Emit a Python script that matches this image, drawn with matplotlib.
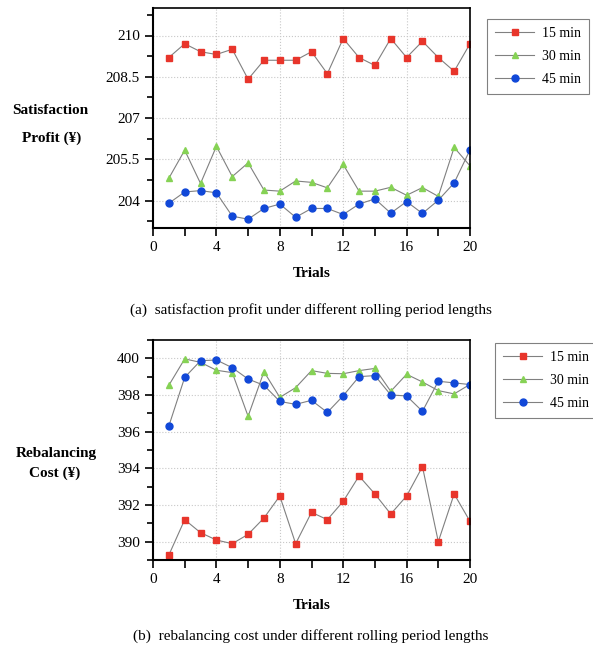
import matplotlib.pyplot as plt
from matplotlib.ticker import MultipleLocator

# trials 1..20
trials = list(range(1, 21))
labels = ["15 min", "30 min", "45 min"]

# (a) satisfaction profit
profit_15 = [209.2, 209.7, 209.41, 209.31, 209.5, 208.41, 209.1, 209.1, 209.1, 209.41,
             208.61, 209.89, 209.2, 208.91, 209.89, 209.2, 209.79, 209.2, 208.7, 209.7]
profit_30 = [204.81, 205.83, 204.62, 205.97, 204.87, 205.37, 204.38, 204.34, 204.71, 204.66,
             204.46, 205.31, 204.34, 204.34, 204.48, 204.19, 204.47, 204.15, 205.93, 205.26]
profit_45 = [203.9, 204.31, 204.36, 204.28, 203.43, 203.32, 203.71, 203.87, 203.39, 203.71,
             203.71, 203.49, 203.87, 204.06, 203.54, 203.96, 203.53, 204.01, 204.64, 205.84]

# (b) rebalancing cost
cost_15 = [389.27, 391.2, 390.49, 390.09, 389.89, 390.4, 391.29, 392.49, 389.89, 391.6,
           391.2, 392.2, 393.58, 392.6, 391.51, 392.49, 394.09, 390.0, 392.6, 391.11]
cost_30 = [398.53, 399.97, 399.78, 399.35, 399.22, 396.84, 399.27, 397.87, 398.4, 399.33,
           399.18, 399.16, 399.33, 399.45, 398.2, 399.13, 398.71, 398.24, 398.06, 398.58]
cost_45 = [396.31, 398.96, 399.87, 399.91, 399.49, 398.87, 398.53, 397.65, 397.49, 397.71,
           397.05, 397.96, 399.0, 399.06, 398.0, 397.95, 397.11, 398.75, 398.66, 398.57]

plt.rcParams["font.family"] = ["Liberation Serif", "DejaVu Serif"]
plt.rcParams["font.size"] = 11

W, H = 593, 648
fig = plt.figure(figsize=(W / 100, H / 100), dpi=100)


def px_axes(left, top, right, bottom):
    return fig.add_axes([left / W, 1 - bottom / H, (right - left) / W, (bottom - top) / H])


styles = [("s", "#e8352b"), ("^", "#86d255"), ("o", "#1148d8")]


def draw(ax, series, ylim, major, minor):
    handles = []
    for vals, (m, c), lab in zip(series, styles, labels):
        h, = ax.plot(trials, vals, color="#808080", lw=0.8, marker=m, ms=5,
                     mfc=c, mec=c, label=lab)
        handles.append(h)
    ax.set_xlim(0, 20)
    ax.set_ylim(*ylim)
    ax.xaxis.set_major_locator(MultipleLocator(4))
    ax.xaxis.set_minor_locator(MultipleLocator(2))
    ax.yaxis.set_major_locator(MultipleLocator(major))
    ax.yaxis.set_minor_locator(MultipleLocator(minor))
    ax.tick_params(which="both", direction="out", width=1.2, labelsize=11)
    ax.tick_params(which="major", length=6)
    ax.tick_params(which="minor", length=6, axis="x")
    ax.tick_params(which="minor", length=4, axis="y")
    ax.grid(True, which="major", color="#c8c8c8", ls=":", lw=0.8)
    for s in ["left", "bottom"]:
        ax.spines[s].set_linewidth(1.5)
    for s in ["top", "right"]:
        ax.spines[s].set_linewidth(1.2)
    ax.set_xlabel("Trials", fontweight="bold", labelpad=9)
    return handles


ax1 = px_axes(153, 8, 470, 228)
h1 = draw(ax1, [profit_15, profit_30, profit_45], (203, 211), 1.5, 0.75)
ax1.yaxis.set_major_formatter(plt.FuncFormatter(lambda v, p: f"{v:g}"))

ax2 = px_axes(153, 340, 470, 560)
h2 = draw(ax2, [cost_15, cost_30, cost_45], (389, 401), 2, 1)

fig.text(50 / W, 1 - 111 / H, "Satisfaction", ha="center", va="center", fontweight="bold")
fig.text(52 / W, 1 - 138 / H, "Profit (¥)", ha="center", va="center", fontweight="bold")
fig.text(56 / W, 1 - 453 / H, "Rebalancing", ha="center", va="center", fontweight="bold")
fig.text(55 / W, 1 - 473 / H, "Cost (¥)", ha="center", va="center", fontweight="bold")

fig.text(311 / W, 1 - 310 / H, "(a)  satisfaction profit under different rolling period lengths",
         ha="center", va="center")
fig.text(311 / W, 1 - 636 / H, "(b)  rebalancing cost under different rolling period lengths",
         ha="center", va="center")

for hs, (x0, y0) in [(h1, (487, 19)), (h2, (495, 343))]:
    leg = fig.legend(handles=hs, loc="upper left", bbox_to_anchor=(x0 / W, 1 - y0 / H),
                     fancybox=False, edgecolor="#808080", framealpha=1, fontsize=10,
                     handlelength=2.8, handletextpad=0.55, borderpad=0.6,
                     labelspacing=0.7, borderaxespad=0)
    leg.get_frame().set_linewidth(0.8)

fig.savefig("out.png", dpi=100)
